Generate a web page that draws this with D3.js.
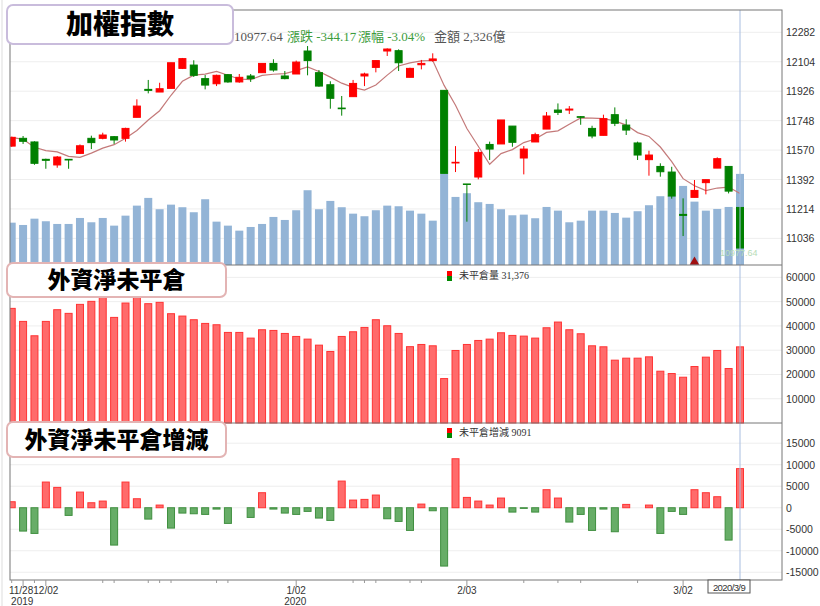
<!DOCTYPE html>
<html>
<head>
<meta charset="utf-8">
<title>加權指數</title>
<script src="https://cdn.jsdelivr.net/npm/d3@7"></script>
<style>
  body { margin: 0; background: #fff; }
  svg { font-family: "Liberation Sans", "Noto Sans CJK TC", sans-serif; }
</style>
</head>
<body>
<svg width="820" height="606"></svg>
<script>
const dates = ['11/27','11/28','11/29',
  '12/02','12/03','12/04','12/05','12/06','12/09','12/10','12/11','12/12','12/13',
  '12/16','12/17','12/18','12/19','12/20','12/23','12/24','12/25','12/26','12/27','12/30','12/31',
  '1/02','1/03','1/06','1/07','1/08','1/09','1/10','1/13','1/14','1/15','1/16','1/17','1/20','1/30','1/31',
  '2/03','2/04','2/05','2/06','2/07','2/10','2/11','2/12','2/13','2/14','2/17','2/18','2/19','2/20','2/21',
  '2/24','2/25','2/26','2/27','3/02','3/03','3/04','3/05','3/06','3/09']

const open  = [11594,11641,11619,11514,11480,11514,11550,11641,11641,11651,11641,11768,11937,11921,11943,12064,
  12084,12002,11971,12026,11982,12018,12038,12094,12018,12030,12169,12038,11965,11824,11893,12018,12070,12169,
  12171,12010,12086,12111,11931,11492,11365,11407,11604,11607,11715,11522,11619,11697,11812,11812,11772,11701,
  11659,11784,11721,11613,11512,11471,11437,11181,11284,11373,11461,11471,11223]
const close = [11647,11623,11490,11508,11528,11510,11596,11615,11661,11631,11701,11836,11931,11941,12098,12123,
  12022,11963,12022,11982,12010,12002,12094,12054,12002,12102,12111,11957,11883,11820,11973,12030,12111,12181,
  12098,12064,12094,12121,11429,11496,11363,11556,11576,11752,11617,11576,11663,11776,11798,11818,11768,11655,
  11760,11732,11691,11540,11540,11439,11292,11175,11326,11391,11518,11321.81,10977.64]
const high  = [11651,11655,11623,11518,11534,11514,11604,11657,11675,11655,11705,11877,11994,11977,12098,12127,
  12113,12024,12026,12030,12030,12030,12094,12119,12048,12111,12199,12054,11986,11897,11994,12038,12111,12185,
  12179,12068,12115,12155,11933,11594,11365,11576,11621,11752,11715,11594,11675,11800,11852,11836,11776,11717,
  11784,11828,11756,11621,11566,11490,11469,11278,11389,11391,11526,11471,11223]
const low   = [11590,11607,11481,11457,11463,11457,11546,11576,11635,11607,11621,11768,11913,11921,11943,12060,
  12012,11937,11957,11977,11977,11982,12038,12044,11998,12030,12022,11953,11820,11778,11893,11957,12040,12139,
  12048,12010,12058,12104,11429,11437,11137,11393,11510,11607,11590,11423,11619,11697,11782,11788,11723,11641,
  11659,11715,11661,11510,11415,11409,11276,11050,11284,11302,11461,11308,10977.64]
// 成交金額 (億)
const volume = [1081,1022,1183,1117,1048,1048,1201,1091,1201,1005,1260,1516,1713,1424,1541,1475,1347,1679,1107,
  1005,877,971,1048,1227,1150,1398,1909,1424,1636,1475,1311,1245,1398,1516,1500,1388,1311,1132,2326,1738,1833,
  1603,1559,1424,1270,1286,1194,1482,1388,1091,1132,1388,1388,1329,1209,1373,1526,1756,1764,2019,1618,1388,1431,
  1482,2326]
// 外資淨未平倉
const oi = [47230,41860,35940,41860,46680,45170,48880,50120,51910,43510,49430,51910,49160,49710,45030,44060,42550,
  41030,40480,37320,37320,34980,38420,38140,36900,35660,34560,32080,29470,35660,37590,39380,42550,40070,36900,
  31450,32360,31810,18310,29880,32360,34010,34560,37180,36080,35800,34980,39240,41590,38420,36770,31810,31400,
  25890,26710,26710,27260,21340,20380,18860,23270,27130,29880,22450,31376]
// 外資淨未平倉增減
const oiChange = [1395,-5425,-5970,5970,4730,-1780,3640,1160,1550,-8680,5970,2090,-2640,620,-4730,-1240,-1400,
  -1550,-310,-3640,0,-2250,3490,-310,-1240,-1550,-850,-2400,-2950,6200,1780,1940,2950,-2560,-3180,-5270,850,-700,
  -13560,11390,2400,1550,620,2250,-1010,-150,-1010,4190,2250,-3330,-1550,-5270,-310,-5580,775,0,620,-5970,-850,
  -1550,4190,3490,2560,-7520,9091]

const priceTicks = [11036,11214,11392,11570,11748,11926,12104,12282]
const oiTicks = [10000,20000,30000,40000,50000,60000]
const chgTicks = [-15000,-10000,-5000,0,5000,10000,15000]
const dateLabels = ['11/28','12/02','1/02','2/03','3/02']
const yearLabels = { '11/28': '2019', '1/02': '2020' }

const svg = d3.select('svg')
const L = 10, R = 782
const P1 = [10, 265], P2 = [265, 423], P3 = [423, 580]

const x = d3.scalePoint().domain(dates).range([11.7, 740])
const bw = 8

svg.append('clipPath').attr('id', 'plot')
  .append('rect').attr('x', L).attr('y', 10).attr('width', R - L).attr('height', 570)
const g = svg.append('g').attr('clip-path', 'url(#plot)')

const yP = d3.scaleLinear().domain([10875, 12417]).range([P1[1], P1[0]])
const yV = d3.scaleLinear().domain([0, 6000]).range([P1[1], P1[1] - 235])
const yO = d3.scaleLinear().domain([0, 65100]).range([P2[1], P2[0]])
const yC = d3.scaleLinear().domain([-16800, 19700]).range([P3[1], P3[0]])

function grid(scale, ticks) {
  g.append('g').selectAll('line').data(ticks).join('line')
    .attr('x1', L).attr('x2', R).attr('y1', d => scale(d)).attr('y2', d => scale(d))
    .attr('stroke', '#eeeeee')
  svg.append('g').selectAll('text').data(ticks).join('text')
    .attr('x', R + 4).attr('y', d => scale(d) + 4)
    .attr('font-size', 10.5).attr('fill', '#333').text(d => d)
}
grid(yP, priceTicks)
grid(yO, oiTicks)
grid(yC, chgTicks)

// 成交量
g.append('g').selectAll('rect').data(volume).join('rect')
  .attr('x', (d, i) => x(dates[i]) - bw / 2).attr('width', bw)
  .attr('y', d => yV(d)).attr('height', d => yV(0) - yV(d))
  .attr('fill', '#93b4d6')

// 5日均線
const ma = close.map((c, i) => d3.mean(close.slice(Math.max(0, i - 4), i + 1)))
g.append('path').datum(ma)
  .attr('d', d3.line().x((d, i) => x(dates[i])).y(d => yP(d)))
  .attr('fill', 'none').attr('stroke', '#c47a7a').attr('stroke-width', 1.2)

// K線
const candles = g.append('g').selectAll('g').data(dates).join('g')
  .attr('fill', (d, i) => close[i] >= open[i] ? '#ff0000' : '#008000')
  .attr('stroke', (d, i) => close[i] >= open[i] ? '#ff0000' : '#008000')
candles.append('line')
  .attr('x1', d => x(d)).attr('x2', d => x(d))
  .attr('y1', (d, i) => yP(high[i])).attr('y2', (d, i) => yP(low[i]))
candles.append('rect')
  .attr('x', d => x(d) - bw / 2 + 0.5).attr('width', bw - 1)
  .attr('y', (d, i) => yP(Math.max(open[i], close[i])))
  .attr('height', (d, i) => Math.max(0.5, Math.abs(yP(open[i]) - yP(close[i]))))

// 外資淨未平倉
g.append('g').selectAll('rect').data(oi).join('rect')
  .attr('x', (d, i) => x(dates[i]) - bw / 2 + 0.5).attr('width', bw - 1)
  .attr('y', d => yO(d)).attr('height', d => yO(0) - yO(d))
  .attr('fill', '#ff6b6b').attr('stroke', '#ff3333')

// 增減
g.append('g').selectAll('rect').data(oiChange).join('rect')
  .attr('x', (d, i) => x(dates[i]) - bw / 2 + 0.5).attr('width', bw - 1)
  .attr('y', d => yC(Math.max(0, d))).attr('height', d => Math.abs(yC(d) - yC(0)))
  .attr('fill', d => d >= 0 ? '#ff6b6b' : '#67ad67')
  .attr('stroke', d => d >= 0 ? '#ff3333' : '#3f8f3f')
  .attr('stroke-opacity', d => d === 0 ? 0 : 1)

// cursor
const cx = x(dates[dates.length - 1])
svg.append('line').attr('x1', cx).attr('x2', cx).attr('y1', 10).attr('y2', 580)
  .attr('stroke', '#a8bde0').attr('stroke-width', 1)
svg.append('path').attr('d', d3.symbol(d3.symbolTriangle, 40)())
  .attr('transform', `translate(${x(dates[60])},262)`).attr('fill', '#a01010')
svg.append('text').attr('x', 720).attr('y', 256).attr('font-size', 9)
  .attr('fill', '#b8dcb8').text(close[close.length - 1])

// frames
const frame = svg.append('g').attr('stroke', '#777').attr('fill', 'none')
frame.append('rect').attr('x', L).attr('y', 10).attr('width', R - L).attr('height', 570)
frame.append('line').attr('x1', L).attr('x2', R).attr('y1', P2[0]).attr('y2', P2[0])
frame.append('line').attr('x1', L).attr('x2', R).attr('y1', P3[0]).attr('y2', P3[0])
svg.append('line').attr('x1', 2).attr('x2', 2).attr('y1', 0).attr('y2', 606).attr('stroke', '#ddd')

// x axis
const xAxis = svg.append('g')
xAxis.selectAll('line').data(dates.filter((d, i) => i < 4 || dateLabels.includes(d) || d.endsWith('/09') || d.endsWith('/16') || d.endsWith('/23') || d.endsWith('/13') || d.endsWith('/10') || d.endsWith('/17') || d.endsWith('/24')))
  .join('line').attr('x1', d => x(d)).attr('x2', d => x(d))
  .attr('y1', 580).attr('y2', d => dateLabels.includes(d) ? 586 : 583).attr('stroke', '#999')
xAxis.selectAll('text.d').data(dateLabels).join('text')
  .attr('x', d => x(d) + (d === '11/28' ? -2 : 0)).attr('y', 594)
  .attr('text-anchor', 'middle').attr('font-size', 10).attr('fill', '#333').text(d => d)
xAxis.selectAll('text.y').data(Object.keys(yearLabels)).join('text')
  .attr('x', d => x(d) - 12).attr('y', 605).attr('font-size', 10).attr('fill', '#333')
  .text(d => yearLabels[d])
svg.append('rect').attr('x', 708).attr('y', 580).attr('width', 42).attr('height', 13)
  .attr('fill', '#fff').attr('stroke', '#555')
svg.append('text').attr('x', 729).attr('y', 590.5).attr('text-anchor', 'middle')
  .attr('font-size', 9.5).attr('fill', '#333').attr('letter-spacing', -0.6).text('2020/3/9')

// info line
const last = close.length - 1
const chg = close[last] - close[last - 1]
const info = svg.append('text').attr('y', 41).attr('font-size', 13)
  .attr('font-family', '"Liberation Serif", "Noto Sans CJK TC", serif')
info.append('tspan').attr('x', 234).attr('fill', '#555').text(close[last].toFixed(2))
info.append('tspan').attr('x', 287).attr('fill', '#3c9c3c').text('漲跌 ' + chg.toFixed(2))
info.append('tspan').attr('x', 358).attr('fill', '#3c9c3c').text('漲幅  ' + (chg / close[last - 1] * 100).toFixed(2) + '%')
info.append('tspan').attr('x', 434).attr('fill', '#555').text('金額 2,326億')

function legend(y0, label) {
  svg.append('rect').attr('x', 447).attr('y', y0).attr('width', 5).attr('height', 5).attr('fill', '#f00')
  svg.append('rect').attr('x', 447).attr('y', y0 + 5).attr('width', 5).attr('height', 5).attr('fill', '#080')
  svg.append('text').attr('x', 459).attr('y', y0 + 8).attr('font-size', 10).attr('fill', '#333')
    .attr('font-family', '"Liberation Serif", "Noto Sans CJK TC", serif').text(label)
}
legend(271, '未平倉量 ' + d3.format(',')(oi[last]))
legend(428, '未平倉增減 ' + oiChange[last])

function titleBox(x0, y0, w, h, color, label, fs) {
  svg.append('rect').attr('x', x0).attr('y', y0).attr('width', w).attr('height', h).attr('rx', 6)
    .attr('fill', '#fff').attr('stroke', color).attr('stroke-width', 2)
  svg.append('text').attr('x', x0 + w / 2).attr('y', y0 + h / 2 + fs * 0.36)
    .attr('text-anchor', 'middle').attr('font-size', fs).attr('font-weight', 900)
    .attr('font-family', '"Noto Sans CJK TC", sans-serif').attr('fill', '#000').text(label)
}
titleBox(7, 5, 226, 39, '#c9bcdc', '加權指數', 27)
titleBox(7, 263, 219, 34, '#e3b4b4', '外資淨未平倉', 23)
titleBox(7, 422, 219, 35, '#e3b4b4', '外資淨未平倉增減', 23)
</script>
</body>
</html>
